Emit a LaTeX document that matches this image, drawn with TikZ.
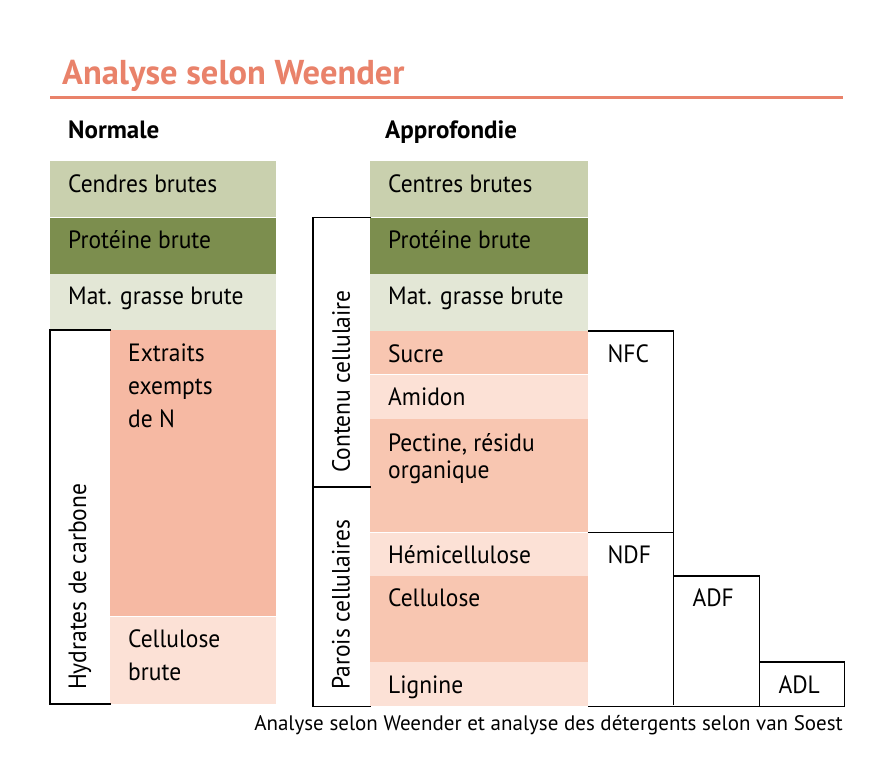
\documentclass[tikz,border=0pt]{standalone}
\usepackage{fontspec}
\setmainfont{PT Sans}
\newfontfamily\corps{PT Sans}[FakeStretch=0.94]
\usepackage{xcolor}
\usetikzlibrary{positioning, calc}

\definecolor{titlecoral}{HTML}{E9826A}
\definecolor{cendres}{HTML}{C9D0AE}
\definecolor{proteine}{HTML}{7C8E4E}
\definecolor{grasse}{HTML}{E3E7D6}
\definecolor{saumonfonce}{HTML}{F6B9A3}
\definecolor{saumon}{HTML}{F8C6B1}
\definecolor{rose}{HTML}{FCE1D6}

\begin{document}
\begin{tikzpicture}[
    x=1pt, y=-1pt,
    node distance=0pt,
    rowN/.style={rectangle, inner sep=0pt, minimum width=226pt},
    rowA/.style={rectangle, inner sep=0pt, minimum width=218pt},
    txt/.style={anchor=base west, inner sep=0pt, align=left, font=\corps\fontsize{25}{33}\selectfont},
    side/.style={rotate=90, anchor=west, inner sep=0pt, font=\corps\fontsize{25}{33}\selectfont},
    frame/.style={draw=black, line width=1.5pt, line cap=rect}
]
    \useasboundingbox (0,0) rectangle (880,781);

    \node (title) [anchor=base west, inner sep=0pt, text=titlecoral, font=\fontsize{34.5}{40}\selectfont\bfseries] at (62,85) {Analyse selon Weender};
    \coordinate (ruleL) at (50,98);
    \coordinate (ruleR) at (843,98);
    \draw [titlecoral, line width=3pt] (ruleL) -- (ruleR);

    \node (normale) [anchor=base west, inner sep=0pt, font=\fontsize{25}{33}\selectfont\bfseries] at (68,139) {Normale};
    \node (approf) [anchor=base west, inner sep=0pt, font=\fontsize{25}{33}\selectfont\bfseries] at (385,139) {Approfondie};

    % colonne normale
    \node (cendresN) [rowN, fill=cendres, minimum height=56pt, anchor=north west] at (50,161) {};
    \node (proteineN) [rowN, fill=proteine, minimum height=56pt, below=of cendresN] {};
    \node (grasseN) [rowN, fill=grasse, minimum height=57pt, below=of proteineN] {};
    \node (extraitsN) [rectangle, inner sep=0pt, minimum width=166pt, minimum height=286pt, fill=saumonfonce, anchor=north west] at (110,330) {};
    \node (cellbruteN) [rectangle, inner sep=0pt, minimum width=166pt, minimum height=87pt, fill=rose, below=of extraitsN] {};

    % colonne approfondie
    \node (cendresA) [rowA, fill=cendres, minimum height=56pt, anchor=north west] at (370,161) {};
    \node (proteineA) [rowA, fill=proteine, minimum height=56pt, below=of cendresA] {};
    \node (grasseA) [rowA, fill=grasse, minimum height=57pt, below=of proteineA] {};
    \node (sucre) [rowA, fill=saumon, minimum height=43pt, below=of grasseA] {};
    \node (amidon) [rowA, fill=rose, minimum height=44pt, below=of sucre] {};
    \node (pectine) [rowA, fill=saumon, minimum height=113pt, below=of amidon] {};
    \node (hemicell) [rowA, fill=rose, minimum height=43pt, below=of pectine] {};
    \node (cellulose) [rowA, fill=saumon, minimum height=86pt, below=of hemicell] {};
    \node (lignine) [rowA, fill=rose, minimum height=44pt, below=of cellulose] {};

    % textes (base = derniere ligne)
    \node (tCendresN) [txt] at ([shift={(18,31)}]cendresN.north west) {Cendres brutes};
    \node (tProteineN) [txt] at ([shift={(18,31)}]proteineN.north west) {Protéine brute};
    \node (tGrasseN) [txt] at ([shift={(18,31)}]grasseN.north west) {Mat. grasse brute};
    \node (tExtraitsN) [txt] at ([shift={(18,97)}]extraitsN.north west) {Extraits\\exempts\\de N};
    \node (tCellbruteN) [txt] at ([shift={(18,64)}]cellbruteN.north west) {Cellulose\\brute};

    \node (tCendresA) [txt] at ([shift={(18,31)}]cendresA.north west) {Centres brutes};
    \node (tProteineA) [txt] at ([shift={(18,31)}]proteineA.north west) {Protéine brute};
    \node (tGrasseA) [txt] at ([shift={(18,31)}]grasseA.north west) {Mat. grasse brute};
    \node (tSucre) [txt] at ([shift={(18,31)}]sucre.north west) {Sucre};
    \node (tAmidon) [txt] at ([shift={(18,31)}]amidon.north west) {Amidon};
    \node (tPectine) [txt] at ([shift={(18,59)}]pectine.north west) {Pectine, résidu\\[-6pt]organique};
    \node (tHemicell) [txt] at ([shift={(18,31)}]hemicell.north west) {Hémicellulose};
    \node (tCellulose) [txt] at ([shift={(18,31)}]cellulose.north west) {Cellulose};
    \node (tLignine) [txt] at ([shift={(18,31)}]lignine.north west) {Lignine};

    % cadres
    \draw [frame] (extraitsN.north west) -- ++(-60,0) |- (cellbruteN.south west);
    \node (hydrates) [side] at (80,690) {Hydrates de carbone};

    \draw [frame] (proteineA.north west) -- ++(-57,0) |- (lignine.south west);
    \coordinate (splitL) at (313,487);
    \coordinate (splitR) at (370,487);
    \draw [frame] (splitL) -- (splitR);
    \node (contenu) [side] at (341,473) {Contenu cellulaire};
    \node (parois) [side] at (341,690) {Parois cellulaires};

    \draw [frame] (sucre.north east) -- ++(85,0) -- ++(0,373);
    \draw [frame] (hemicell.north east) -- ++(85,0);
    \draw [frame] (hemicell.south east) ++(85,0) -- ++(86,0) -- ++(0,130);
    \draw [frame] (cellulose.south east) ++(171,0) -- ++(85,0) -- ++(0,44);
    \draw [frame] (lignine.south east) -- ++(256,0);

    \node (nfc) [txt] at ([shift={(19,31)}]sucre.north east) {NFC};
    \node (ndf) [txt] at ([shift={(19,31)}]hemicell.north east) {NDF};
    \node (adf) [txt] at ([shift={(104,31)}]cellulose.north east) {ADF};
    \node (adl) [txt] at ([shift={(190,31)}]lignine.north east) {ADL};

    \node (legende) [anchor=base east, inner sep=0pt, font=\fontsize{21}{25}\selectfont] at (843,730) {Analyse selon Weender et analyse des détergents selon van Soest};
\end{tikzpicture}
\end{document}
